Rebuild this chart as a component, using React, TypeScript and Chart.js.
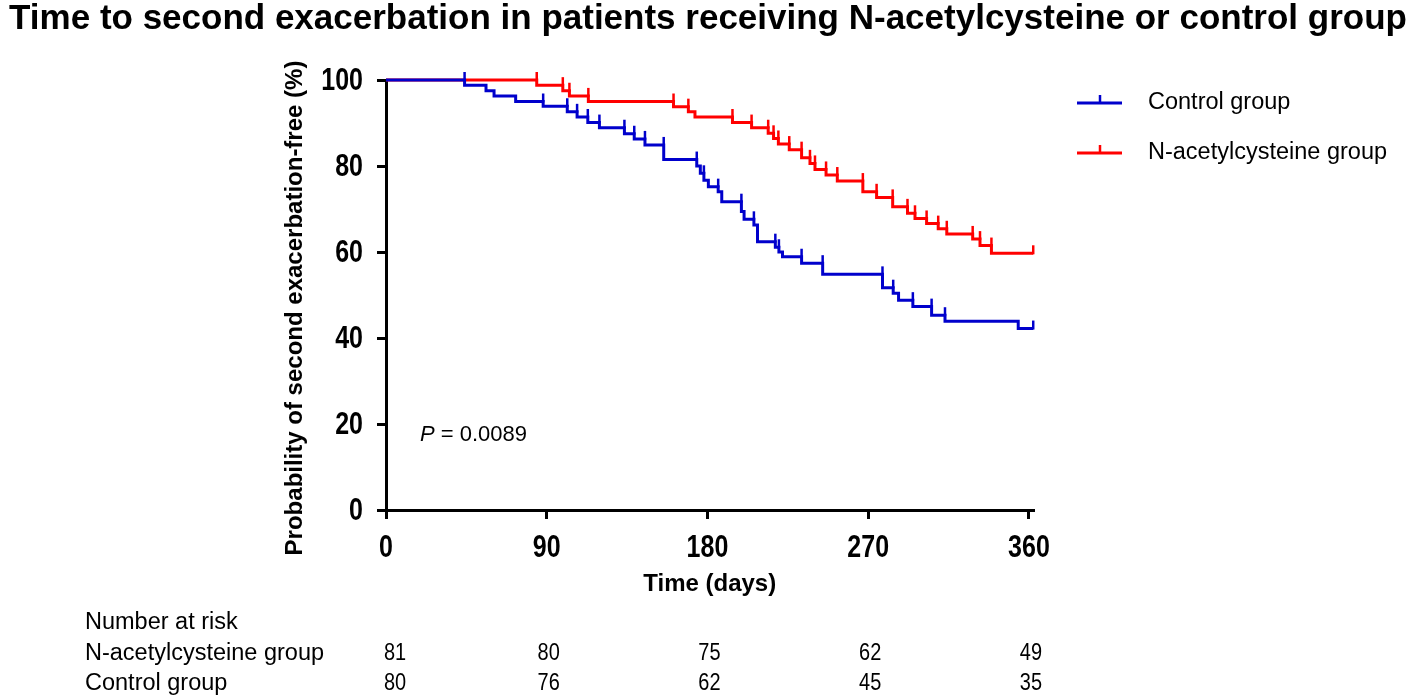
import React, { useEffect, useRef } from 'react';
import { Chart, registerables } from 'chart.js';

Chart.register(...registerables);

const TITLE = 'Time to second exacerbation in patients receiving N-acetylcysteine or control group';
const Y_TITLE = 'Probability of second exacerbation-free (%)';
const X_TITLE = 'Time (days)';
const SERIES_NAMES = ['Control group', 'N-acetylcysteine group'];
const SERIES_COLORS = ['#0000cc', '#ff0000'];

const xTicks = [0, 90, 180, 270, 360];
const yTicks = [0, 20, 40, 60, 80, 100];

// Kaplan–Meier step points (day, % exacerbation-free after that day)
const controlTimes = [0, 44, 56, 60.5, 72.6, 88, 101.5, 107, 113, 119.5, 133.5, 139, 145, 155.5, 174, 176, 178, 180.5, 186, 188, 199, 200.5, 206, 208, 218, 220, 222, 232.7, 244.5, 278, 284, 287, 295, 305.5, 313, 354, 362.4];
const controlSurv = [100, 98.8, 97.5, 96.3, 95.0, 93.9, 92.6, 91.4, 90.1, 88.9, 87.5, 86.3, 84.9, 81.5, 80.0, 78.3, 76.7, 75.2, 74.0, 71.7, 69.4, 67.6, 66.3, 62.4, 61.1, 60.0, 58.9, 57.4, 54.8, 51.7, 50.4, 48.8, 47.3, 45.3, 43.9, 42.2, 42.2];
const controlCensor = [44, 88, 101.5, 107, 113, 119.5, 133.5, 139, 145, 155.5, 174, 178, 186, 199, 206, 218, 220, 232.7, 244.5, 278, 284, 295, 305.5, 313, 362.4];

const nacTimes = [0, 84.4, 99, 102.7, 113.3, 161, 169.3, 173, 194, 204.7, 214, 217, 219.7, 225.8, 232.7, 237.4, 240.2, 246.4, 252.7, 267, 274.7, 283.7, 292, 296.2, 302.7, 309.2, 314, 328.5, 332.6, 339, 362.4];
const nacSurv = [100, 98.8, 97.5, 96.3, 95.0, 93.8, 92.6, 91.4, 90.1, 88.9, 87.6, 86.4, 85.1, 83.8, 81.9, 80.6, 79.2, 77.9, 76.5, 74.0, 72.7, 70.5, 69.0, 67.8, 66.6, 65.4, 64.2, 63.0, 61.5, 59.7, 59.7];
const nacCensor = [84.4, 99, 102.7, 113.3, 161, 169.3, 194, 204.7, 214, 217, 219.7, 225.8, 232.7, 237.4, 240.2, 246.4, 252.7, 267, 274.7, 283.7, 292, 296.2, 302.7, 309.2, 314, 328.5, 332.6, 339, 362.4];

const RISK_TITLE = 'Number at risk';
const riskRowLabels = ['N-acetylcysteine group', 'Control group'];
const nacAtRisk = [81, 80, 75, 62, 49];
const controlAtRisk = [80, 76, 62, 45, 35];
const P_LABEL = 'P';
const P_VALUE = '= 0.0089';

const FONT = '"Liberation Sans", Arial, Helvetica, sans-serif';

const censorSets = [controlCensor, nacCensor];
const survSets = [
  { t: controlTimes, s: controlSurv },
  { t: nacTimes, s: nacSurv },
];

function levelBefore(idx: number, t: number) {
  const { t: ts, s } = survSets[idx];
  let v = s[0];
  for (let i = 0; i < ts.length; i++) {
    if (ts[i] < t) v = s[i];
  }
  return v;
}

function stretchedText(ctx: any, text: string, x: number, y: number, sx: number, sy: number) {
  ctx.save();
  ctx.translate(x, y);
  ctx.scale(sx, sy);
  ctx.fillText(text, 0, 0);
  ctx.restore();
}

const extrasPlugin = {
  id: 'extras',
  afterDatasetsDraw(chart: any) {
    const ctx = chart.ctx;
    const xs = chart.scales.x;
    const ys = chart.scales.y;
    ctx.save();
    censorSets.forEach((set, idx) => {
      ctx.strokeStyle = SERIES_COLORS[idx];
      ctx.lineWidth = 2.5;
      set.forEach((t) => {
        const px = xs.getPixelForValue(t);
        const py = ys.getPixelForValue(levelBefore(idx, t));
        ctx.beginPath();
        ctx.moveTo(px, py + 1);
        ctx.lineTo(px, py - 8);
        ctx.stroke();
      });
    });
    ctx.restore();
  },
  afterDraw(chart: any) {
    const ctx = chart.ctx;
    const xs = chart.scales.x;
    const ys = chart.scales.y;
    const area = chart.chartArea;
    ctx.save();
    ctx.fillStyle = '#000';
    // tick labels (tall, narrow bold numerals)
    ctx.font = `bold 25px ${FONT}`;
    ctx.textBaseline = 'middle';
    ctx.textAlign = 'right';
    yTicks.forEach((v) => {
      stretchedText(ctx, String(v), 363, ys.getPixelForValue(v) + 1, 1, 1.25);
    });
    ctx.textAlign = 'center';
    xTicks.forEach((v) => {
      stretchedText(ctx, String(v), xs.getPixelForValue(v), 548, 1, 1.25);
    });
    // title
    ctx.font = `bold 35px ${FONT}`;
    ctx.textAlign = 'center';
    ctx.fillText(TITLE, 708, 19);
    // y title
    ctx.save();
    ctx.translate(295, 308);
    ctx.rotate(-Math.PI / 2);
    ctx.font = `bold 24px ${FONT}`;
    ctx.fillText(Y_TITLE, 0, 0);
    ctx.restore();
    // x title
    ctx.font = `bold 24px ${FONT}`;
    ctx.fillText(X_TITLE, (area.left + area.right) / 2, 584);
    // P value
    ctx.textAlign = 'left';
    ctx.font = `italic 22px ${FONT}`;
    ctx.fillText(P_LABEL, 420, 435);
    const pw = ctx.measureText(P_LABEL).width;
    ctx.font = `22px ${FONT}`;
    ctx.fillText(' ' + P_VALUE, 420 + pw, 435);
    // legend
    const legendY = [103, 153];
    SERIES_NAMES.forEach((name, i) => {
      const y = legendY[i];
      ctx.strokeStyle = SERIES_COLORS[i];
      ctx.lineWidth = 3;
      ctx.beginPath();
      ctx.moveTo(1077, y);
      ctx.lineTo(1122, y);
      ctx.stroke();
      ctx.lineWidth = 2.5;
      ctx.beginPath();
      ctx.moveTo(1100, y);
      ctx.lineTo(1100, y - 8);
      ctx.stroke();
      ctx.fillStyle = '#000';
      ctx.font = `23.5px ${FONT}`;
      ctx.textAlign = 'left';
      ctx.fillText(name, 1148, y);
    });
    // number at risk table
    ctx.font = `23.5px ${FONT}`;
    ctx.textAlign = 'left';
    ctx.fillText(RISK_TITLE, 85, 623);
    const rows = [nacAtRisk, controlAtRisk];
    const rowY = [654, 684];
    rows.forEach((vals, r) => {
      ctx.textAlign = 'left';
      ctx.fillText(riskRowLabels[r], 85, rowY[r]);
      vals.forEach((v, i) => {
        const px = xs.getPixelForValue(xTicks[i]);
        ctx.textAlign = 'center';
        stretchedText(ctx, String(v), i === 0 ? px + 9 : px + 2, rowY[r], 0.85, 1);
      });
    });
    ctx.restore();
  },
};

export default function App() {
  const canvasRef = useRef<HTMLCanvasElement | null>(null);

  useEffect(() => {
    document.body.style.margin = '0';
    const canvas = canvasRef.current;
    if (!canvas) return;
    const chart = new Chart(canvas, {
      type: 'line',
      data: {
        datasets: [
          {
            label: SERIES_NAMES[0],
            data: controlTimes.map((t, i) => ({ x: t, y: controlSurv[i] })),
            borderColor: SERIES_COLORS[0],
            backgroundColor: SERIES_COLORS[0],
            borderWidth: 3,
            pointRadius: 0,
            stepped: 'before',
            fill: false,
            clip: 8,
          },
          {
            label: SERIES_NAMES[1],
            data: nacTimes.map((t, i) => ({ x: t, y: nacSurv[i] })),
            borderColor: SERIES_COLORS[1],
            backgroundColor: SERIES_COLORS[1],
            borderWidth: 3,
            pointRadius: 0,
            stepped: 'before',
            fill: false,
            clip: 8,
          },
        ],
      },
      options: {
        animation: false,
        responsive: false,
        events: [],
        layout: { padding: { left: 0, top: 80, right: 1418 - 1033.4, bottom: 0 } },
        plugins: {
          legend: { display: false },
          title: { display: false },
          tooltip: { enabled: false },
        },
        scales: {
          x: {
            type: 'linear',
            min: 0,
            max: 362.5,
            afterFit: (s: any) => { s.height = 698 - 510; },
            afterBuildTicks: (s: any) => { s.ticks = xTicks.map((v) => ({ value: v })); },
            border: { display: true, color: '#000', width: 3 },
            grid: { display: true, drawOnChartArea: false, drawTicks: true, tickLength: 9, tickWidth: 3, tickColor: '#000', color: '#000', lineWidth: 3 },
            ticks: { display: false },
          },
          y: {
            type: 'linear',
            min: 0,
            max: 100,
            afterFit: (s: any) => { s.width = 386; },
            afterBuildTicks: (s: any) => { s.ticks = yTicks.map((v) => ({ value: v })); },
            border: { display: true, color: '#000', width: 3 },
            grid: { display: true, drawOnChartArea: false, drawTicks: true, tickLength: 9, tickWidth: 3, tickColor: '#000', color: '#000', lineWidth: 3 },
            ticks: { display: false },
          },
        },
      },
      plugins: [extrasPlugin],
    });
    return () => chart.destroy();
  }, []);

  return (
    <div style={{ position: 'relative', width: 1418, height: 698, background: '#fff' }}>
      <canvas ref={canvasRef} width={1418} height={698} />
    </div>
  );
}
